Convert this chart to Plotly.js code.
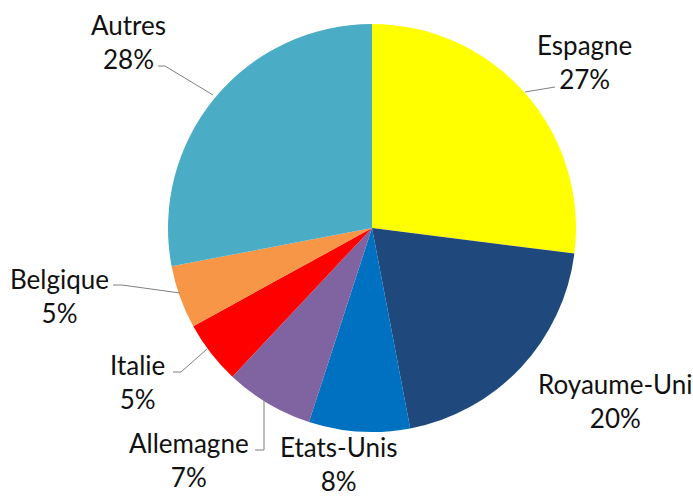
<!DOCTYPE html>
<html>
<head>
<meta charset="utf-8">
<script src="https://cdn.plot.ly/plotly-3.0.1.min.js"></script>
<style>html,body{margin:0;padding:0;background:#fff;}#chart{width:693px;height:500px;}</style>
</head>
<body>
<div id="chart"></div>
<script>
// Data
const countries = ["Espagne", "Royaume-Uni", "Etats-Unis", "Allemagne", "Italie", "Belgique", "Autres"];
const shares = [27, 20, 8, 7, 5, 5, 28];
const sliceColors = ["#FFFF00", "#1F497D", "#0070C0", "#8064A2", "#FF0000", "#F79646", "#4BACC6"];

// Layout helpers (pixel positions of label centers and leader lines)
const W = 693, H = 500;
const labelPos = [[584, 62], [615, 401], [339, 464], [189, 460], [137, 382], [59, 296], [128, 42]];
const leaders = [
  [[525, 92], [555, 87]],
  null,
  null,
  [[264, 399], [264, 450], [255, 450]],
  [[207, 349], [181, 372], [173, 372]],
  [[180, 293], [122, 285], [113, 285]],
  [[213, 95], [165, 66], [158, 66]]
];
const px = x => x / W, py = y => 1 - y / H;

const annotations = countries.map((c, i) => ({
  xref: "paper", yref: "paper",
  x: px(labelPos[i][0]), y: py(labelPos[i][1]),
  xanchor: "center", yanchor: "middle",
  showarrow: false,
  text: c + "<br>" + shares[i] + "%",
  font: {family: "Lato, 'Open Sans', sans-serif", size: 26, color: "#111111"}
}));

const shapes = leaders.filter(l => l).map(l => ({
  type: "path", xref: "paper", yref: "paper",
  path: l.map((p, j) => (j ? "L" : "M") + px(p[0]) + "," + py(p[1])).join(" "),
  line: {color: "#7f7f7f", width: 1}
}));

const trace = {
  type: "pie",
  labels: countries,
  values: shares,
  sort: false,
  direction: "clockwise",
  rotation: 0,
  textinfo: "none",
  hoverinfo: "label+percent",
  marker: {colors: sliceColors, line: {width: 0}},
  domain: {x: [168 / W, 576 / W], y: [1 - 432 / H, 1 - 24 / H]},
  showlegend: false
};

Plotly.newPlot("chart", [trace], {
  width: W, height: H,
  margin: {l: 0, r: 0, t: 0, b: 0},
  paper_bgcolor: "#fff",
  showlegend: false,
  annotations: annotations,
  shapes: shapes
}, {displayModeBar: false, staticPlot: true});
</script>
</body>
</html>
